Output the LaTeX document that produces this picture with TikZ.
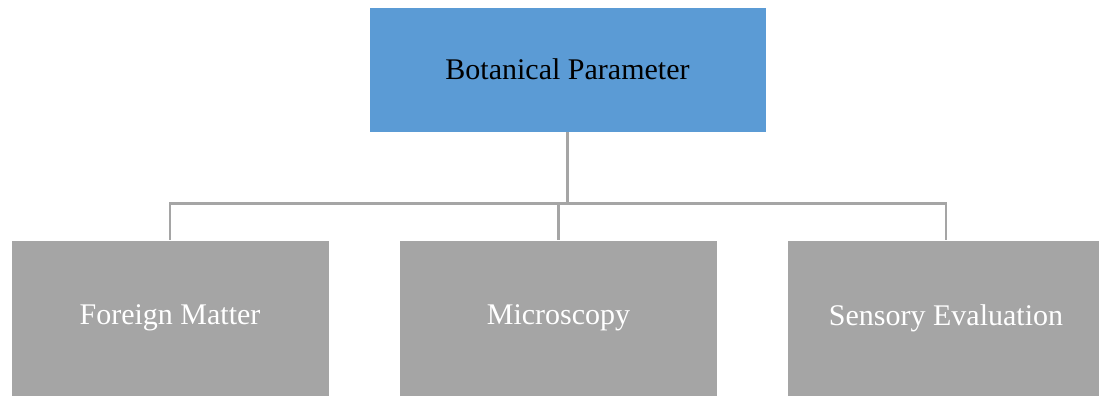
\documentclass[tikz,border=0pt]{standalone}
\usepackage{fontspec}
\setmainfont{Liberation Serif}
\definecolor{topblue}{HTML}{5B9BD5}
\definecolor{leafgray}{HTML}{A5A5A5}
\definecolor{linkgray}{HTML}{A5A5A5}
\begin{document}
\begin{tikzpicture}[x=1pt,y=1pt,
  headbox/.style={rectangle, fill=topblue, draw=white, line width=0.6pt,
    minimum width=397pt, minimum height=125pt, inner sep=0pt,
    text=black, font=\fontsize{30}{36}\selectfont},
  leafbox/.style={rectangle, fill=leafgray, draw=white, line width=0.6pt,
    minimum width=318pt, minimum height=156pt, inner sep=0pt,
    text=white, font=\fontsize{30}{36}\selectfont},
  link/.style={draw=linkgray, line width=2.6pt}]
  \useasboundingbox (0,0) rectangle (1099,396);
  \clip (0,0) rectangle (1099,396);
  \fill[white] (0,0) rectangle (1099,396);
  % root and the three branches
  \node[headbox] (top) at (567.5,326.5) {Botanical Parameter};
  \node[leafbox] (b1) at (170,78) {Foreign Matter};
  \node[leafbox] (b2) at (558.5,78) {Microscopy};
  \node[leafbox] (b3) at (946,78) {Sensory Evaluation};
  % connectors
  \draw[link] (top.south) -- ++(0,-72.5);
  \draw[link] (b1.north) -- ++(0,36) -| (b3.north);
  \draw[link] (b2.north) -- ++(0,36);
\end{tikzpicture}
\end{document}
